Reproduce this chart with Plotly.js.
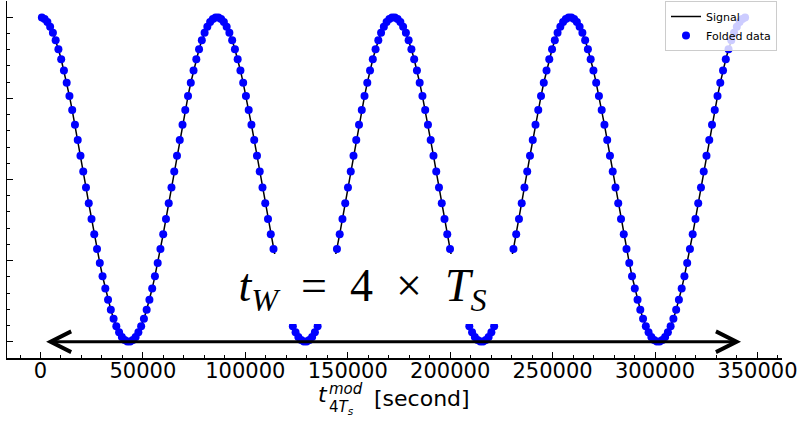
<!DOCTYPE html>
<html>
<head>
<meta charset="utf-8">
<script src="https://cdn.plot.ly/plotly-3.0.1.min.js"></script>
<style>
  html, body { margin: 0; padding: 0; background: #ffffff; }
  #chart { width: 798px; height: 422px; }
</style>
</head>
<body>
<div id="chart"></div>
<script>
// Folded samples, one sidereal day per block: time [s] and normalised signal
const tDay1 = [670, 2020, 3370, 4710, 6060, 7400, 8750, 10100, 11440, 12790, 14140, 15480, 16830, 18180, 19520, 20870,
  22210, 23560, 24910, 26250, 27600, 28950, 30290, 31640, 32980, 34330, 35680, 37020, 38370, 39720, 41060, 42410,
  43760, 45100, 46450, 47790, 49140, 50490, 51830, 53180, 54530, 55870, 57220, 58560, 59910, 61260, 62600, 63950,
  65300, 66640, 67990, 69340, 70680, 72030, 73370, 74720, 76070, 77410, 78760, 80110, 81450, 82800, 84150, 85490];
const tDay2 = [86840, 88180, 89530, 90880, 92220, 93570, 94920, 96260, 97610, 98950, 100300, 101650, 102990, 104340, 105690, 107030,
  108380, 109720, 111070, 112420, 113760, 115110, 116460, 117800, 119150, 120490, 121840, 123190, 124530, 125880, 127230, 128570,
  129920, 131270, 132610, 133960, 135300, 136650, 138000, 139340, 140690, 142040, 143380, 144730, 146070, 147420, 148770, 150110,
  151460, 152810, 154150, 155500, 156850, 158190, 159540, 160880, 162230, 163580, 164920, 166270, 167620, 168960, 170310, 171650];
const tDay3 = [173000, 174350, 175690, 177040, 178390, 179730, 181080, 182430, 183770, 185120, 186460, 187810, 189160, 190500, 191850, 193200,
  194540, 195890, 197230, 198580, 199930, 201270, 202620, 203970, 205310, 206660, 208010, 209350, 210700, 212040, 213390, 214740,
  216080, 217430, 218780, 220120, 221470, 222810, 224160, 225510, 226850, 228200, 229550, 230890, 232240, 233590, 234930, 236280,
  237620, 238970, 240320, 241660, 243010, 244360, 245700, 247050, 248390, 249740, 251090, 252430, 253780, 255130, 256470, 257820];
const tDay4 = [259170, 260510, 261860, 263200, 264550, 265900, 267240, 268590, 269940, 271280, 272630, 273970, 275320, 276670, 278010, 279360,
  280710, 282050, 283400, 284750, 286090, 287440, 288780, 290130, 291480, 292820, 294170, 295520, 296860, 298210, 299550, 300900,
  302250, 303590, 304940, 306290, 307630, 308980, 310330, 311670, 313020, 314360, 315710, 317060, 318400, 319750, 321100, 322440,
  323790, 325130, 326480, 327830, 329170, 330520, 331870, 333210, 334560, 335900, 337250, 338600, 339940, 341290, 342640, 343980];

const yDay1 = [0.999, 0.989, 0.970, 0.942, 0.904, 0.858, 0.803, 0.741, 0.672, 0.596, 0.514, 0.428, 0.337, 0.243, 0.147, 0.049,
  -0.049, -0.147, -0.243, -0.337, -0.428, -0.514, -0.596, -0.672, -0.741, -0.803, -0.858, -0.904, -0.942, -0.970, -0.989, -0.999,
  -0.999, -0.989, -0.970, -0.942, -0.904, -0.858, -0.803, -0.741, -0.672, -0.596, -0.514, -0.428, -0.337, -0.243, -0.147, -0.049,
  0.049, 0.147, 0.243, 0.337, 0.428, 0.514, 0.596, 0.672, 0.741, 0.803, 0.858, 0.904, 0.942, 0.970, 0.989, 0.999];
const yDay2 = [0.999, 0.989, 0.970, 0.942, 0.904, 0.858, 0.803, 0.741, 0.672, 0.596, 0.514, 0.428, 0.337, 0.243, 0.147, 0.049,
  -0.049, -0.147, -0.243, -0.337, -0.428, -0.514, -0.596, -0.672, -0.741, -0.803, -0.858, -0.904, -0.942, -0.970, -0.989, -0.999,
  -0.999, -0.989, -0.970, -0.942, -0.904, -0.858, -0.803, -0.741, -0.672, -0.596, -0.514, -0.428, -0.337, -0.243, -0.147, -0.049,
  0.049, 0.147, 0.243, 0.337, 0.428, 0.514, 0.596, 0.672, 0.741, 0.803, 0.858, 0.904, 0.942, 0.970, 0.989, 0.999];
const yDay3 = [0.999, 0.989, 0.970, 0.942, 0.904, 0.858, 0.803, 0.741, 0.672, 0.596, 0.514, 0.428, 0.337, 0.243, 0.147, 0.049,
  -0.049, -0.147, -0.243, -0.337, -0.428, -0.514, -0.596, -0.672, -0.741, -0.803, -0.858, -0.904, -0.942, -0.970, -0.989, -0.999,
  -0.999, -0.989, -0.970, -0.942, -0.904, -0.858, -0.803, -0.741, -0.672, -0.596, -0.514, -0.428, -0.337, -0.243, -0.147, -0.049,
  0.049, 0.147, 0.243, 0.337, 0.428, 0.514, 0.596, 0.672, 0.741, 0.803, 0.858, 0.904, 0.942, 0.970, 0.989, 0.999];
const yDay4 = [0.999, 0.989, 0.970, 0.942, 0.904, 0.858, 0.803, 0.741, 0.672, 0.596, 0.514, 0.428, 0.337, 0.243, 0.147, 0.049,
  -0.049, -0.147, -0.243, -0.337, -0.428, -0.514, -0.596, -0.672, -0.741, -0.803, -0.858, -0.904, -0.942, -0.970, -0.989, -0.999,
  -0.999, -0.989, -0.970, -0.942, -0.904, -0.858, -0.803, -0.741, -0.672, -0.596, -0.514, -0.428, -0.337, -0.243, -0.147, -0.049,
  0.049, 0.147, 0.243, 0.337, 0.428, 0.514, 0.596, 0.672, 0.741, 0.803, 0.858, 0.904, 0.942, 0.970, 0.989, 0.999];

const xTickVals = [0, 50000, 100000, 150000, 200000, 250000, 300000, 350000];
const xTickText = ['0', '50000', '100000', '150000', '200000', '250000', '300000', '350000'];
const yTickVals = [-1, -0.5, 0, 0.5, 1];

// ends of the 4-day window arrow [s] and its height
const windowArrowX = [2000, 342000];
const windowArrowY = -1;

const t = tDay1.concat(tDay2, tDay3, tDay4);
const y = yDay1.concat(yDay2, yDay3, yDay4);

const signal = {
  x: t, y: y, type: 'scatter', mode: 'lines', name: 'Signal',
  line: { color: '#000000', width: 1.5 }
};
const dots = {
  x: t, y: y, type: 'scatter', mode: 'markers', name: 'Folded data',
  marker: { color: '#0000ff', size: 8, line: { width: 0 } }
};

const px = (p) => (p - 7) / 775;      // paper x from pixel column
const py = (p) => (358 - p) / 357;    // paper y from pixel row

const titleFont = { family: 'DejaVu Sans', size: 22, color: '#000' };
const smallFont = { family: 'DejaVu Sans', size: 15, color: '#000' };

const layout = {
  width: 798, height: 422,
  margin: { l: 7, r: 16, t: 1, b: 64, pad: 0 },
  paper_bgcolor: '#ffffff', plot_bgcolor: '#ffffff',
  showlegend: true,
  legend: {
    x: px(777), y: py(1), xanchor: 'right', yanchor: 'top',
    bgcolor: 'rgba(255,255,255,0.8)', bordercolor: '#cccccc', borderwidth: 1,
    font: { family: 'DejaVu Sans', size: 11, color: '#000' },
    traceorder: 'normal', tracegroupgap: 0, itemwidth: 30
  },
  xaxis: {
    range: [-16350, 362000], showgrid: false, zeroline: false,
    showline: true, linecolor: '#000', linewidth: 1.5,
    ticks: 'inside', ticklen: 6, tickwidth: 1, tickcolor: '#000',
    tickmode: 'array', tickvals: xTickVals, ticktext: xTickText,
    tickfont: { family: 'DejaVu Sans', size: 21, color: '#000' },
    ticklabelstandoff: -7,
    ticklabeloverflow: 'allow', automargin: false,
    minor: { ticks: 'inside', ticklen: 3, tickwidth: 1, tickcolor: '#000', dtick: 10000, tick0: 0, showgrid: false }
  },
  yaxis: {
    range: [-1.1, 1.1], showgrid: false, zeroline: false,
    showline: true, linecolor: '#000', linewidth: 1.5,
    ticks: 'inside', ticklen: 6, tickwidth: 1, tickcolor: '#000',
    tickmode: 'array', tickvals: yTickVals, showticklabels: false,
    automargin: false,
    minor: { ticks: 'inside', ticklen: 3, tickwidth: 1, tickcolor: '#000', dtick: 0.1, tick0: 0, showgrid: false }
  },
  annotations: [
    // double-headed window arrow
    {
      xref: 'x', yref: 'y', axref: 'x', ayref: 'y',
      x: windowArrowX[1], y: windowArrowY, ax: windowArrowX[0], ay: windowArrowY,
      text: '', showarrow: true, arrowside: 'end+start',
      arrowhead: 5, startarrowhead: 5, arrowsize: 1.35, startarrowsize: 1.35,
      arrowwidth: 3, arrowcolor: '#000', standoff: 0, startstandoff: 0
    },
    // window label on a white box
    {
      xref: 'x', yref: 'y', x: 157200, y: -0.675, xanchor: 'center', yanchor: 'middle',
      showarrow: false, bgcolor: '#ffffff', borderpad: 0, borderwidth: 0,
      width: 305, height: 70, align: 'center', valign: 'middle',
      text: '<i>t</i><sub><i>W</i></sub>  =  4  ×  <i>T</i><sub><i>S</i></sub>',
      font: { family: 'Liberation Serif', size: 46, color: '#000' }
    },
    // x-axis title, built from pieces so the super- and subscript stack
    { xref: 'paper', yref: 'paper', x: px(316), y: py(394), xanchor: 'left', yanchor: 'middle',
      showarrow: false, text: '<i>t</i>', font: titleFont },
    { xref: 'paper', yref: 'paper', x: px(327), y: py(389), xanchor: 'left', yanchor: 'middle',
      showarrow: false, text: '<i>mod</i>', font: smallFont },
    { xref: 'paper', yref: 'paper', x: px(327), y: py(407), xanchor: 'left', yanchor: 'middle',
      showarrow: false, text: '4<i>T</i><sub><i>s</i></sub>', font: smallFont },
    { xref: 'paper', yref: 'paper', x: px(372), y: py(398), xanchor: 'left', yanchor: 'middle',
      showarrow: false, text: '[second]', font: titleFont }
  ]
};

Plotly.newPlot('chart', [signal, dots], layout, { staticPlot: true, displayModeBar: false });
</script>
</body>
</html>
